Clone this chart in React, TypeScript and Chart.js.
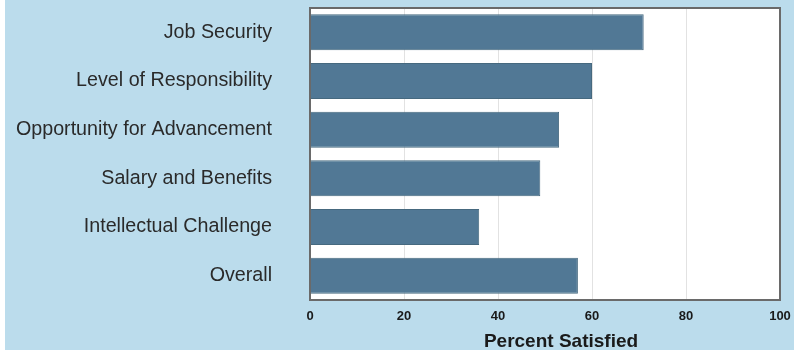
import React, { useEffect, useRef } from "react";
import { Chart, registerables } from "chart.js";

Chart.register(...registerables);

const categories = [
  "Job Security",
  "Level of Responsibility",
  "Opportunity for Advancement",
  "Salary and Benefits",
  "Intellectual Challenge",
  "Overall",
];
const percentSatisfied = [71, 60, 53, 49, 36, 57];
const xTicks = [0, 20, 40, 60, 80, 100];
const axisTitle = "Percent Satisfied";

const plotFrame = {
  id: "plotFrame",
  beforeDraw(chart: any) {
    const { ctx, chartArea: a } = chart;
    ctx.save();
    ctx.fillStyle = "#ffffff";
    ctx.fillRect(a.left, a.top, a.right - a.left, a.bottom - a.top);
    ctx.restore();
  },
  afterDraw(chart: any) {
    const { ctx, chartArea: a } = chart;
    ctx.save();
    ctx.strokeStyle = "#6a6a6a";
    ctx.lineWidth = 2;
    ctx.strokeRect(a.left, a.top, a.right - a.left, a.bottom - a.top);
    ctx.fillStyle = "#1a1a1a";
    ctx.font = "bold 19px 'Liberation Sans', Arial, sans-serif";
    ctx.textAlign = "center";
    ctx.textBaseline = "middle";
    ctx.fillText(axisTitle, (a.left + a.right) / 2 + 16, 342);
    ctx.restore();
  },
};

export default function App() {
  const ref = useRef<HTMLCanvasElement>(null);
  useEffect(() => {
    document.body.style.margin = "0";
    const chart = new Chart(ref.current!, {
      type: "bar",
      data: {
        labels: categories,
        datasets: [
          {
            data: percentSatisfied,
            backgroundColor: "#517895",
            borderColor: "#46697f",
            borderWidth: 1,
            barPercentage: 0.74,
            categoryPercentage: 1,
          },
        ],
      },
      plugins: [plotFrame],
      options: {
        indexAxis: "y",
        animation: false,
        responsive: false,
        maintainAspectRatio: false,
        layout: { padding: { top: 8, right: 14, bottom: 0, left: 0 } },
        plugins: { legend: { display: false }, tooltip: { enabled: false } },
        scales: {
          x: {
            min: 0,
            max: 100,
            afterBuildTicks: (s: any) => {
              s.ticks = xTicks.map((v) => ({ value: v }));
            },
            grid: { color: "#e2e2e2", drawTicks: false, lineWidth: 1 },
            border: { display: false },
            ticks: {
              padding: 9,
              color: "#1a1a1a",
              font: { family: "'Liberation Sans', Arial, sans-serif", size: 13, weight: "bold" },
              maxRotation: 0,
            },
            afterFit: (s: any) => {
              s.height = 50;
              s.paddingLeft = 0;
              s.paddingRight = 0;
            },
          },
          y: {
            grid: { display: false, drawTicks: false },
            border: { display: false },
            ticks: {
              padding: 38,
              color: "#2a2a2a",
              font: { family: "'Liberation Sans', Arial, sans-serif", size: 19.7 },
            },
            afterFit: (s: any) => {
              s.width = 310;
              s.paddingTop = 0;
              s.paddingBottom = 0;
            },
          },
        },
      },
    });
    return () => chart.destroy();
  }, []);
  return (
    <div
      style={{
        position: "absolute",
        left: 0,
        top: 0,
        width: 794,
        height: 350,
        background: "linear-gradient(to right, #ffffff 0px, #ffffff 5px, #bbdcec 5px, #bbdcec 100%)",
      }}
    >
      <canvas ref={ref} width={794} height={350} style={{ display: "block" }} />
    </div>
  );
}
